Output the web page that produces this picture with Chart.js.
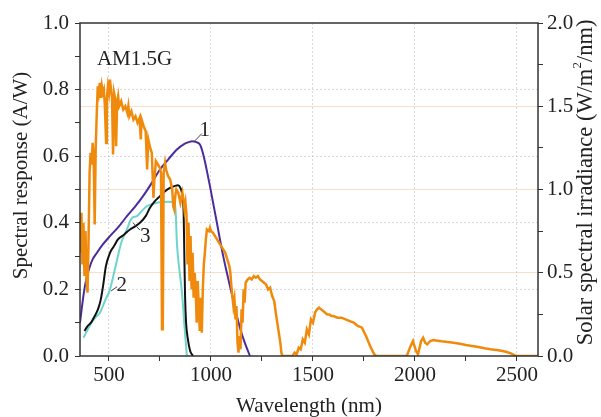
<!DOCTYPE html>
<html>
<head>
<meta charset="utf-8">
<script src="https://cdn.jsdelivr.net/npm/chart.js@4.4.0/dist/chart.umd.min.js"></script>
<style>
  html, body { margin: 0; padding: 0; background: #fff; }
</style>
</head>
<body>
<canvas id="js-spectrum-chart" width="601" height="417"></canvas>
<script>
// AM1.5G solar spectrum (right axis, W/m2/nm)
const solarNm = [360,365,370,375,380,385,390,395,400,405,410,415,420,425,430,435,440,445,450,455,460,465,470,475,480,486,490,495,500,505,510,515,520,525,530,535,540,545,550,560,570,580,590,595,600,610,620,630,640,650,656,660,670,680,687,693,700,710,718,722,730,740,750,755,760,764,768,775,780,790,800,810,815,820,825,830,840,850,860,865,870,875,880,885,890,895,900,905,910,915,920,925,930,935,940,945,950,955,960,965,970,975,980,990,995,1000,1010,1020,1030,1040,1050,1060,1070,1080,1090,1095,1100,1105,1110,1115,1120,1125,1130,1135,1140,1145,1150,1155,1160,1165,1170,1180,1190,1200,1210,1220,1230,1240,1250,1260,1270,1280,1290,1300,1310,1320,1325,1330,1340,1345,1350,1400,1410,1420,1430,1440,1450,1460,1470,1480,1490,1500,1510,1520,1530,1540,1550,1560,1570,1580,1590,1600,1620,1640,1660,1680,1700,1720,1740,1760,1780,1800,1810,1960,1975,1990,2005,2015,2030,2040,2050,2060,2075,2090,2110,2130,2160,2190,2220,2250,2280,2310,2340,2370,2400,2430,2450,2470,2490,2500,2600]
const solarIrr = [0.62,0.86,0.55,0.80,0.48,0.75,0.45,0.38,0.70,1.10,1.22,1.15,1.28,1.20,0.79,1.25,1.45,1.62,1.58,1.64,1.55,1.62,1.58,1.60,1.50,1.28,1.55,1.62,1.58,1.66,1.60,1.55,1.21,1.58,1.55,1.26,1.52,1.56,1.50,1.53,1.48,1.50,1.46,1.50,1.44,1.47,1.42,1.44,1.40,1.43,1.30,1.42,1.38,1.35,1.12,1.30,1.26,1.22,0.95,1.05,1.17,1.15,1.13,1.10,0.16,0.20,1.10,1.16,1.12,1.08,1.06,1.00,0.90,0.88,0.96,1.00,0.98,0.92,0.98,0.94,0.88,0.92,0.85,0.55,0.80,0.45,0.72,0.40,0.62,0.35,0.50,0.40,0.20,0.45,0.30,0.15,0.35,0.14,0.40,0.55,0.62,0.70,0.76,0.75,0.77,0.75,0.74,0.72,0.70,0.68,0.66,0.64,0.62,0.58,0.54,0.50,0.42,0.36,0.30,0.34,0.22,0.30,0.08,0.02,0.12,0.04,0.28,0.20,0.40,0.32,0.44,0.46,0.47,0.46,0.48,0.47,0.48,0.46,0.45,0.44,0.43,0.40,0.41,0.36,0.33,0.24,0.20,0.16,0.08,0.02,0,0,0.02,0.01,0.05,0.04,0.10,0.08,0.16,0.13,0.22,0.20,0.26,0.28,0.29,0.28,0.27,0.26,0.25,0.25,0.24,0.24,0.23,0.23,0.22,0.21,0.20,0.18,0.17,0.12,0.06,0.01,0,0,0.05,0.09,0.03,0.01,0.09,0.11,0.08,0.07,0.09,0.096,0.092,0.088,0.084,0.08,0.074,0.066,0.06,0.054,0.046,0.04,0.036,0.03,0.024,0.016,0.004,0,0]

// spectral response curves (left axis, A/W)
const curve1Nm = [358,368,382,397,407,420,441,470,505,550,588,630,667,710,750,790,833,870,890,907,925,946,958,970,982,995,1012,1029,1044,1060,1076,1093,1110,1127,1142,1160,1175,1191]
const curve1Resp = [0.10,0.15,0.21,0.25,0.27,0.29,0.31,0.335,0.36,0.39,0.42,0.45,0.48,0.52,0.56,0.59,0.62,0.637,0.642,0.645,0.643,0.635,0.615,0.585,0.55,0.51,0.455,0.40,0.35,0.30,0.255,0.21,0.165,0.12,0.085,0.05,0.025,0]
const curve2Nm = [375,382,400,420,440,456,480,505,525,544,560,588,613,637,660,686,720,750,790,823,828,833,845,858,870,882]
const curve2Resp = [0.055,0.063,0.085,0.105,0.12,0.13,0.165,0.20,0.25,0.30,0.34,0.38,0.415,0.42,0.435,0.45,0.458,0.462,0.463,0.462,0.42,0.34,0.26,0.19,0.09,0]
const curve3Nm = [380,395,412,430,446,460,471,485,505,525,544,575,603,630,652,680,701,725,750,775,799,820,838,850,860,866,869,873,878,887,898,912]
const curve3Resp = [0.075,0.09,0.10,0.12,0.14,0.17,0.21,0.27,0.31,0.33,0.35,0.365,0.38,0.39,0.40,0.42,0.445,0.465,0.48,0.495,0.505,0.51,0.513,0.505,0.48,0.43,0.32,0.18,0.10,0.05,0.015,0]

// ticks (every tick gets a mark, only the labelled ones get text + grid)
const wavelengthTicks = [500, 750, 1000, 1250, 1500, 1750, 2000, 2250, 2500]
const wavelengthLabels = [500, 1000, 1500, 2000, 2500]
const responseTicks = [0, 0.1, 0.2, 0.3, 0.4, 0.5, 0.6, 0.7, 0.8, 0.9, 1.0]
const responseLabels = ['0.0', '0.2', '0.4', '0.6', '0.8', '1.0']
const irradianceTicks = [0, 0.25, 0.5, 0.75, 1.0, 1.25, 1.5, 1.75, 2.0]
const irradianceLabels = ['0.0', '0.5', '1.0', '1.5', '2.0']

// text labels placed in data coordinates
const curveLabels = [
  { text: '1', x: 970, y: 0.676, from: [921, 0.646], to: [955, 0.668] },
  { text: '2', x: 563, y: 0.212, from: [510, 0.195], to: [540, 0.208] },
  { text: '3', x: 678, y: 0.36, from: [618, 0.40], to: [652, 0.378] },
]
const spectrumLabel = { text: 'AM1.5G', x: 441, y: 0.89 }

const serif = '"Liberation Serif", "Times New Roman", serif'
const ink = '#222'
const noGrid = 'rgba(0,0,0,0)'

const toPoints = (xs, ys) => xs.map((x, i) => ({ x: x, y: ys[i] }))
const setTicks = values => s => { s.ticks = values.map(v => ({ value: v })) }
const label1 = v => v.toFixed(1)

const framePlugin = {
  id: 'frame',
  afterDatasetsDraw(chart) {
    const { ctx, chartArea: a, scales } = chart
    const sx = scales.x, sy = scales.y
    ctx.save()
    ctx.strokeStyle = '#333'
    ctx.lineWidth = 1.5
    ctx.strokeRect(a.left, a.top, a.right - a.left, a.bottom - a.top)

    ctx.fillStyle = ink
    ctx.font = '21px ' + serif
    ctx.textBaseline = 'middle'
    ctx.textAlign = 'left'
    ctx.fillText(spectrumLabel.text, sx.getPixelForValue(spectrumLabel.x), sy.getPixelForValue(spectrumLabel.y))

    ctx.textAlign = 'center'
    ctx.strokeStyle = '#444'
    ctx.lineWidth = 1
    curveLabels.forEach(l => {
      ctx.beginPath()
      ctx.moveTo(sx.getPixelForValue(l.from[0]), sy.getPixelForValue(l.from[1]))
      ctx.lineTo(sx.getPixelForValue(l.to[0]), sy.getPixelForValue(l.to[1]))
      ctx.stroke()
      ctx.fillText(l.text, sx.getPixelForValue(l.x), sy.getPixelForValue(l.y))
    })
    ctx.restore()

    // left axis title
    ctx.save()
    ctx.fillStyle = ink
    ctx.font = '21px ' + serif
    ctx.textAlign = 'center'
    ctx.textBaseline = 'middle'
    ctx.translate(21, (a.top + a.bottom) / 2 - 14)
    ctx.rotate(-Math.PI / 2)
    ctx.fillText('Spectral response (A/W)', 0, 0)
    ctx.restore()

    // right axis title, reads bottom to top like the left one
    ctx.save()
    ctx.fillStyle = ink
    ctx.textBaseline = 'middle'
    const main = 'Solar spectral irradiance (W/m', sup = '2', tail = '/nm)'
    ctx.font = '22.5px ' + serif
    const w1 = ctx.measureText(main).width
    const w3 = ctx.measureText(tail).width
    ctx.font = '13px ' + serif
    const w2 = ctx.measureText(sup).width
    ctx.translate(a.right + 48, (a.top + a.bottom) / 2 - 7)
    ctx.rotate(-Math.PI / 2)
    ctx.textAlign = 'left'
    let px = -(w1 + w2 + w3) / 2
    ctx.font = '22.5px ' + serif
    ctx.fillText(main, px, 0)
    px += w1
    ctx.font = '13px ' + serif
    ctx.fillText(sup, px, -8)
    px += w2
    ctx.font = '22.5px ' + serif
    ctx.fillText(tail, px, 0)
    ctx.restore()
  }
}

const lineSet = (label, data, color, width, axis) => ({
  label: label,
  data: data,
  yAxisID: axis,
  borderColor: color,
  borderWidth: width,
  pointRadius: 0,
  showLine: true,
  fill: false,
  cubicInterpolationMode: axis === 'y' ? 'monotone' : 'default',
  tension: axis === 'y' ? 0.4 : 0,
})

const ctx = document.getElementById('js-spectrum-chart').getContext('2d')

const spectrumChart = new Chart(ctx, {
  type: 'scatter',
  data: {
    datasets: [
      lineSet('AM1.5G', toPoints(solarNm, solarIrr), '#f08a0c', 2.5, 'y1'),
      lineSet('3', toPoints(curve3Nm, curve3Resp), '#111111', 2, 'y'),
      lineSet('2', toPoints(curve2Nm, curve2Resp), '#6dd5cd', 2, 'y'),
      lineSet('1', toPoints(curve1Nm, curve1Resp), '#4b2c9e', 2, 'y'),
    ],
  },
  options: {
    responsive: false,
    animation: false,
    layout: { padding: { top: 23, left: 0, right: 0, bottom: 0 } },
    plugins: { legend: { display: false }, tooltip: { enabled: false } },
    scales: {
      x: {
        type: 'linear',
        min: 358,
        max: 2603,
        afterFit: s => { s.height = 61 },
        afterBuildTicks: setTicks(wavelengthTicks),
        ticks: {
          autoSkip: false,
          maxRotation: 0,
          padding: 2,
          color: ink,
          font: { family: serif, size: 21 },
          callback: v => (wavelengthLabels.includes(v) ? String(v) : ''),
        },
        grid: {
          color: c => (c.tick && wavelengthLabels.includes(c.tick.value) ? 'rgba(170,170,170,0.45)' : noGrid),
          tickColor: '#333',
          tickLength: 5,
          lineWidth: 1,
        },
        border: { display: false, dash: [2, 2] },
        title: {
          display: true,
          text: 'Wavelength (nm)',
          color: ink,
          font: { family: serif, size: 21 },
          padding: { top: 0, bottom: -2 },
        },
      },
      y: {
        position: 'left',
        min: 0,
        max: 1,
        afterFit: s => { s.width = 80 },
        afterBuildTicks: setTicks(responseTicks),
        ticks: {
          padding: 6,
          color: ink,
          font: { family: serif, size: 21 },
          callback: v => (responseLabels.includes(label1(v)) ? label1(v) : ''),
        },
        grid: {
          color: c => {
            const t = c.tick ? label1(c.tick.value) : ''
            return responseLabels.includes(t) && t !== '0.0' && t !== '1.0' ? 'rgba(170,170,170,0.45)' : noGrid
          },
          tickColor: '#333',
          tickLength: 5,
        },
        border: { display: false, dash: [2, 2] },
      },
      y1: {
        position: 'right',
        min: 0,
        max: 2,
        afterFit: s => { s.width = 63 },
        afterBuildTicks: setTicks(irradianceTicks),
        ticks: {
          padding: 4,
          color: ink,
          font: { family: serif, size: 21 },
          callback: v => (irradianceLabels.includes(label1(v)) ? label1(v) : ''),
        },
        grid: {
          color: c => {
            const t = c.tick ? label1(c.tick.value) : ''
            return irradianceLabels.includes(t) && t !== '0.0' && t !== '2.0' ? 'rgba(245,190,140,0.5)' : noGrid
          },
          tickColor: '#333',
          tickLength: 5,
        },
        border: { display: false },
      },
    },
  },
  plugins: [framePlugin],
})
</script>
</body>
</html>
